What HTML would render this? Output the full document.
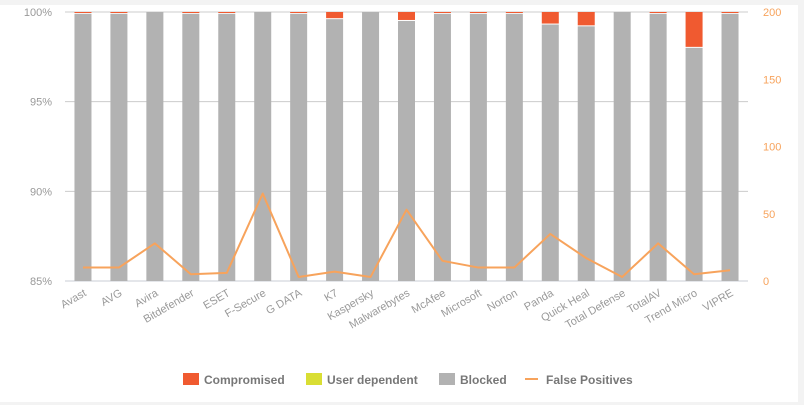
<!DOCTYPE html>
<html><head><meta charset="utf-8"><style>
body{margin:0;background:#f3f3f3;font-family:"Liberation Sans",sans-serif}
#wrap{position:absolute;left:0;top:5px;width:798px;height:397px;background:#fff}
svg{position:absolute;left:0;top:0}
.t{font-size:11px;fill:#999}
</style></head><body>
<div id="wrap"></div>
<svg id="c" width="804" height="405"></svg>
<script>
const categories=["Avast","AVG","Avira","Bitdefender","ESET","F-Secure","G DATA","K7","Kaspersky","Malwarebytes","McAfee","Microsoft","Norton","Panda","Quick Heal","Total Defense","TotalAV","Trend Micro","VIPRE"];
const compromised=[0.1,0.1,0,0.1,0.1,0,0.1,0.4,0,0.5,0.1,0.1,0.1,0.7,0.8,0,0.1,2.0,0.1];
const userDependent=[0,0,0,0,0,0,0,0,0,0,0,0,0,0,0,0,0,0,0];
const falsePositives=[10,10,28,5,6,65,3,7,3,53,15,10,10,35,17,3,28,5,8];
const leftTicks=[85,90,95,100];
const rightTicks=[0,50,100,150,200];
const NS="http://www.w3.org/2000/svg";
const svg=document.getElementById('c');
const X0=65,X1=748,Y0=281,Y1=12;
const bw=(X1-X0)/categories.length;
const yL=v=>Y0-(v-85)/15*(Y0-Y1);
const yR=v=>Y0-v/200*(Y0-Y1);
const xC=i=>X0+bw*(i+0.5);
function el(t,a,txt){const e=document.createElementNS(NS,t);for(const k in a)e.setAttribute(k,a[k]);if(txt!==undefined)e.textContent=txt;svg.appendChild(e);return e;}
leftTicks.forEach(v=>{
 const g=el('line',{x1:X0,x2:X1,y1:yL(v),y2:yL(v),stroke:v==85?'#c8ccd6':'#ccc','stroke-width':1});
 
 
 const t=el('text',{x:X0-13,y:yL(v)+4,'text-anchor':'end',class:'t'},v+'%');
 
 
});
rightTicks.forEach(v=>{
 const t=el('text',{x:763,y:yR(v)+4,class:'t',fill:'#f7a35c',style:'fill:#f7a35c'},String(v));
 
 
});
categories.forEach((c,i)=>{
 const x=xC(i)-8.5;
 const comp=compromised[i],ud=userDependent[i];
 const blockedTop=100-comp-ud;
 const b=el('rect',{x:x,y:yL(blockedTop),width:17,height:Y0-yL(blockedTop),fill:'#b2b2b2'});
 
 
 if(ud>0){const u=el('rect',{x:x,y:yL(100-comp),width:17,height:yL(blockedTop)-yL(100-comp),fill:'#d9de34'});
 
 }
 if(comp>0){const r=el('rect',{x:x,y:Y1,width:17,height:Math.max(yL(100-comp)-Y1-1,1),fill:'#f05a30'});
 
 }
 const t=el('text',{x:xC(i)+4,y:Y0+14,'text-anchor':'end',class:'t',transform:`rotate(-30 ${xC(i)+4} ${Y0+14})`},c);
 
 
});
const pts=falsePositives.map((v,i)=>xC(i)+','+yR(v)).join(' ');
const pl=el('polyline',{points:pts,fill:'none',stroke:'#f7a35c','stroke-width':2,'stroke-linejoin':'round'});


const legend=[["Compromised",'#f05a30',183],["User dependent",'#d9de34',306],["Blocked",'#b2b2b2',439]];
legend.forEach(([n,c,x])=>{
 const r=el('rect',{x:x,y:373,width:16,height:12,fill:c});
 
 
 const t=el('text',{x:x+21,y:384,style:'font-size:12px;font-weight:bold;fill:#777'},n);
 
 
});
const ll=el('line',{x1:525,x2:538,y1:379,y2:379,stroke:'#f7a35c','stroke-width':2});


const lt=el('text',{x:546,y:384,style:'font-size:12px;font-weight:bold;fill:#777'},'False Positives');


</script>
</body></html>
